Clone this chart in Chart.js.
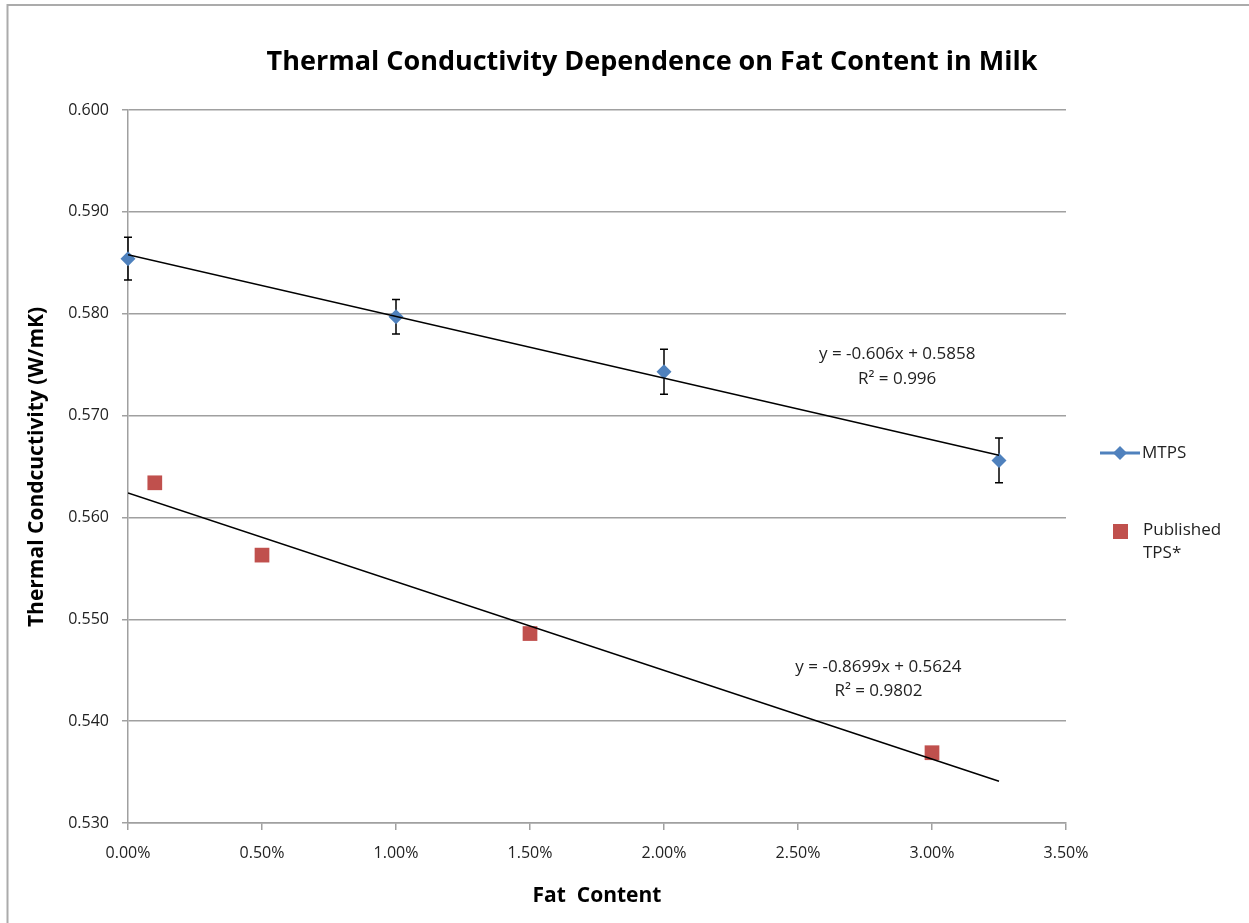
<!DOCTYPE html>
<html>
<head>
<meta charset="utf-8">
<title>Thermal Conductivity Dependence on Fat Content in Milk</title>
<script src="https://cdn.jsdelivr.net/npm/chart.js@4.4.0/dist/chart.umd.min.js"></script>
<style>
  body { margin: 0; background: #fff; }
  #wrap { width: 1249px; height: 923px; position: relative; }
</style>
</head>
<body>
<div id="wrap"><canvas id="chart"></canvas></div>
<script>
// MTPS measurements (fat fraction, W/mK, +/- error)
const mtpsFat = [0, 0.01, 0.02, 0.0325];
const mtpsK = [0.5854, 0.5797, 0.5743, 0.5656];
const mtpsErr = [0.0021, 0.0017, 0.0022, 0.0022];

// Published TPS values
const pubFat = [0.001, 0.005, 0.015, 0.03];
const pubK = [0.5634, 0.5563, 0.5486, 0.5369];

// trendline end points
const trendFat = [0, 0.0325];
const mtpsTrend = [0.5858, 0.5661];
const pubTrend = [0.5624, 0.5341];

const mtpsEq = ['y = -0.606x + 0.5858', 'R\u00b2 = 0.996'];
const pubEq = ['y = -0.8699x + 0.5624', 'R\u00b2 = 0.9802'];

const blue = '#4f81bd';
const red = '#c0504d';
const grey = '#a0a0a0';
const font = "'Open Sans', sans-serif";

const pts = (xs, ys) => xs.map((x, i) => ({ x: x, y: ys[i] }));

// error bars under the diamonds
const errorBars = {
  id: 'errorBars',
  beforeDatasetsDraw(chart) {
    const { ctx, scales: { x, y } } = chart;
    ctx.save();
    ctx.strokeStyle = '#000';
    ctx.lineWidth = 1.5;
    mtpsFat.forEach((f, i) => {
      const px = x.getPixelForValue(f);
      const top = y.getPixelForValue(mtpsK[i] + mtpsErr[i]);
      const bot = y.getPixelForValue(mtpsK[i] - mtpsErr[i]);
      ctx.beginPath();
      ctx.moveTo(px, top); ctx.lineTo(px, bot);
      ctx.moveTo(px - 4, top); ctx.lineTo(px + 4, top);
      ctx.moveTo(px - 4, bot); ctx.lineTo(px + 4, bot);
      ctx.stroke();
    });
    ctx.restore();
  }
};

// titles, equations, legend and frame
const decorations = {
  id: 'decorations',
  afterDraw(chart) {
    const { ctx, scales: { x, y } } = chart;
    ctx.save();

    // frame
    ctx.strokeStyle = '#ababab';
    ctx.lineWidth = 2;
    ctx.beginPath();
    ctx.moveTo(7.5, 923); ctx.lineTo(7.5, 5); ctx.lineTo(1249, 5);
    ctx.stroke();

    ctx.fillStyle = '#000';
    ctx.textAlign = 'center';
    ctx.textBaseline = 'middle';
    ctx.font = 'bold 27px ' + font;
    ctx.fillText('Thermal Conductivity Dependence on Fat Content in Milk', 652, 62);

    ctx.font = 'bold 21px ' + font;
    ctx.fillText('Fat  Content', 597, 896);

    ctx.save();
    ctx.translate(37, 467);
    ctx.rotate(-Math.PI / 2);
    ctx.fillText('Thermal Condcuctivity (W/mK)', 0, 0);
    ctx.restore();

    // trendline equations
    ctx.font = '17px ' + font;
    ctx.fillStyle = '#222';
    const ex1 = x.getPixelForValue(0.0287), ey1 = y.getPixelForValue(0.5760);
    ctx.fillText(mtpsEq[0], ex1, ey1);
    ctx.fillText(mtpsEq[1], ex1, ey1 + 25);
    const ex2 = x.getPixelForValue(0.0280), ey2 = y.getPixelForValue(0.5453);
    ctx.fillText(pubEq[0], ex2, ey2);
    ctx.fillText(pubEq[1], ex2, ey2 + 24);

    // legend
    ctx.strokeStyle = blue;
    ctx.lineWidth = 3;
    ctx.beginPath();
    ctx.moveTo(1100, 453); ctx.lineTo(1140, 453);
    ctx.stroke();
    ctx.fillStyle = blue;
    ctx.beginPath();
    ctx.moveTo(1120, 446); ctx.lineTo(1127, 453); ctx.lineTo(1120, 460); ctx.lineTo(1113, 453);
    ctx.closePath();
    ctx.fill();
    ctx.fillStyle = red;
    ctx.fillRect(1113, 524, 15, 15);

    ctx.fillStyle = '#222';
    ctx.textAlign = 'left';
    ctx.font = '17px ' + font;
    ctx.fillText('MTPS', 1142, 453);
    ctx.fillText('Published', 1143, 530);
    ctx.fillText('TPS*', 1143, 553);

    ctx.restore();
  }
};

new Chart(document.getElementById('chart'), {
  type: 'scatter',
  data: {
    datasets: [
      {
        label: 'MTPS trend',
        data: pts(trendFat, mtpsTrend),
        showLine: true,
        borderColor: '#000',
        borderWidth: 1.5,
        pointRadius: 0,
        order: 0
      },
      {
        label: 'Published TPS* trend',
        data: pts(trendFat, pubTrend),
        showLine: true,
        borderColor: '#000',
        borderWidth: 1.5,
        pointRadius: 0,
        order: 0
      },
      {
        label: 'MTPS',
        data: pts(mtpsFat, mtpsK),
        pointStyle: 'rectRot',
        pointRadius: 7.5,
        backgroundColor: blue,
        borderColor: blue,
        borderWidth: 0,
        clip: false,
        order: 1
      },
      {
        label: 'Published TPS*',
        data: pts(pubFat, pubK),
        pointStyle: 'rect',
        pointRadius: 10.4,
        backgroundColor: red,
        borderColor: red,
        borderWidth: 0,
        clip: false,
        order: 1
      }
    ]
  },
  options: {
    responsive: true,
    maintainAspectRatio: false,
    animation: false,
    layout: { padding: { top: 110, right: 183, bottom: 0, left: 0 } },
    plugins: {
      legend: { display: false },
      title: { display: false },
      tooltip: { enabled: false }
    },
    scales: {
      x: {
        type: 'linear',
        min: 0,
        max: 0.035,
        afterFit: (s) => { s.height = 100; },
        border: { color: grey, width: 1.5 },
        grid: { drawOnChartArea: false, drawTicks: true, tickLength: 7, color: grey, lineWidth: 1.5 },
        ticks: {
          stepSize: 0.005,
          padding: 14,
          color: '#222',
          font: { family: font, size: 16 },
          callback: (v) => (v * 100).toFixed(2) + '%'
        }
      },
      y: {
        min: 0.53,
        max: 0.6,
        afterFit: (s) => { s.width = 128; },
        border: { color: grey, width: 1.5 },
        grid: { color: grey, lineWidth: 1.5, tickLength: 6 },
        ticks: {
          stepSize: 0.01,
          padding: 13,
          color: '#222',
          font: { family: font, size: 16 },
          callback: (v) => v.toFixed(3)
        }
      }
    }
  },
  plugins: [errorBars, decorations]
});
</script>
</body>
</html>
